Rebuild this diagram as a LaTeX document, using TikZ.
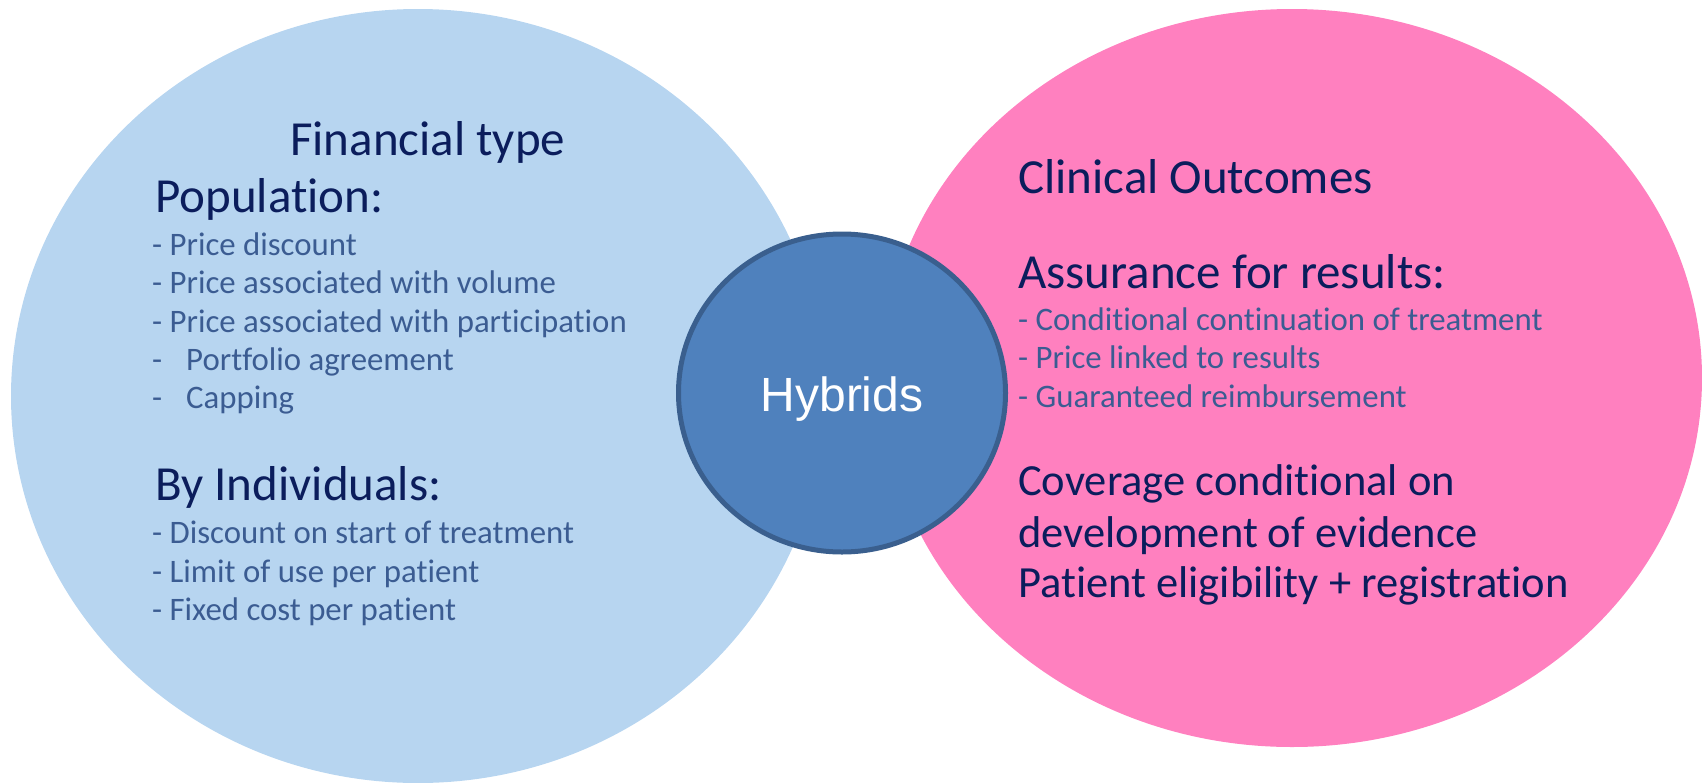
\documentclass[tikz,border=0pt]{standalone}
\usepackage{fontspec}
\setmainfont[RawFeature={-liga}]{Carlito}
\newfontfamily\hybfont{Liberation Sans}
\definecolor{leftfill}{HTML}{B7D5F0}
\definecolor{rightfill}{HTML}{FF80BF}
\definecolor{hubfill}{HTML}{4F81BD}
\definecolor{hubline}{HTML}{3A5F8E}
\definecolor{headtext}{HTML}{0B1D5C}
\definecolor{itemtext}{HTML}{3B5C92}
\tikzset{
  head/.style={anchor=base west, inner sep=0pt, text=headtext, font=\fontsize{49}{49}\selectfont},
  body/.style={anchor=base west, inner sep=0pt, text=headtext, font=\fontsize{44.5}{44.5}\selectfont},
  item/.style={anchor=base west, inner sep=0pt, text=itemtext, font=\fontsize{32.8}{32.8}\selectfont},
  hub/.style={ellipse, fill=hubfill, draw=hubline, line width=5pt, inner sep=0pt}
}
\usetikzlibrary{shapes.geometric}
\begin{document}
\begin{tikzpicture}[x=1pt,y=-1pt]
\useasboundingbox (0,0) rectangle (1702,782);
\clip (0,0) rectangle (1702,782);
% the two outer sets
\fill[leftfill] (418,396) ellipse [x radius=407, y radius=387];
\fill[rightfill] (1292,378) ellipse [x radius=410, y radius=369];
% centre overlap, label baseline set just below the middle
\node[hub, minimum width=327pt, minimum height=318pt] (hyb) at (842,393)
  {\smash{\raisebox{-18pt}{\hybfont\fontsize{48}{48}\selectfont\color{white}Hybrids}}};

% financial side
\node[head] (fin) at (290,155) {Financial type};
\node[head] (pop) at (155,212) {Population:};
\node[item] (p1) at (152,255) {- Price discount};
\node[item] (p2) at (152,293) {- Price associated with volume};
\node[item] (p3) at (152,332) {- Price associated with participation};
\node[item] (p4) at (152,370) {-\hspace{24pt}Portfolio agreement};
\node[item] (p5) at (152,408) {-\hspace{24pt}Capping};
\node[head] (ind) at (155,500) {By Individuals:};
\node[item] (i1) at (152,543) {- Discount on start of treatment};
\node[item] (i2) at (152,582) {- Limit of use per patient};
\node[item] (i3) at (152,620) {- Fixed cost per patient};

% clinical side
\node[head] (cli) at (1018,193) {Clinical Outcomes};
\node[head] (ass) at (1018,288) {Assurance for results:};
\node[item] (a1) at (1018,330) {- Conditional continuation of treatment};
\node[item] (a2) at (1018,368) {- Price linked to results};
\node[item] (a3) at (1018,407) {- Guaranteed reimbursement};
\node[body] (c1) at (1018,495) {Coverage conditional on};
\node[body] (c2) at (1018,547) {development of evidence};
\node[body] (c3) at (1018,597) {Patient eligibility + registration};
\end{tikzpicture}
\end{document}
